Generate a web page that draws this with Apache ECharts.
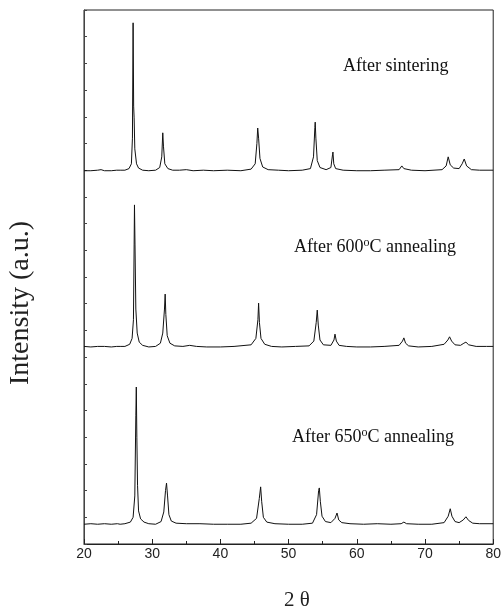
<!DOCTYPE html>
<html>
<head>
<meta charset="utf-8">
<script src="https://cdn.jsdelivr.net/npm/echarts@6/dist/echarts.min.js"></script>
<style>
  html, body { margin: 0; padding: 0; background: #fff; }
  #chart { width: 504px; height: 614px; }
</style>
</head>
<body>
<div id="chart"></div>
<script>
// x tick labels (2θ, degrees)
const xTicks = [20, 30, 40, 50, 60, 70, 80];

// traces, [2θ, intensity a.u.], already offset as plotted
const afterSintering = [
  [20, 699], [21, 699], [22, 700], [22.5, 701], [23, 699], [24, 699], [24.8, 700], [25.0, 703], [25.3, 700],
  [26, 700], [26.6, 703], [26.95, 712], [27.1, 760], [27.2, 976], [27.28, 820], [27.35, 798], [27.45, 740],
  [27.7, 712], [28.0, 704], [28.6, 700], [29.5, 699], [30.5, 700], [31.1, 705], [31.4, 725], [31.55, 770],
  [31.65, 745], [31.85, 712], [32.3, 703], [33, 700], [34, 700], [35, 701], [36, 699], [37.5, 700], [39, 699],
  [41, 700], [43, 699], [44.5, 702], [45.1, 712], [45.35, 750], [45.47, 779], [45.6, 760], [45.8, 722],
  [46.2, 706], [47, 701], [48.5, 700], [50, 699], [52, 700], [53.2, 703], [53.65, 725], [53.85, 780],
  [53.9, 790], [54.0, 760], [54.2, 718], [54.6, 705], [55.5, 701], [56.2, 705], [56.45, 730], [56.5, 734],
  [56.62, 712], [56.9, 703], [58, 700], [60, 699], [62, 699], [64, 700], [66.2, 701], [66.6, 708],
  [66.9, 703], [68, 700], [70, 699], [72.5, 701], [73.1, 708], [73.4, 725], [73.7, 710], [74.2, 704],
  [75, 703], [75.45, 712], [75.75, 721], [76.1, 708], [76.8, 701], [78, 700], [80, 700]
];

const after600 = [
  [20, 370], [21, 369], [22, 370], [23, 370], [24, 369], [24.8, 370], [25.0, 373], [25.3, 370], [26, 370],
  [26.7, 374], [27.05, 385], [27.25, 420], [27.35, 560], [27.4, 635], [27.48, 560], [27.6, 440], [27.8, 395],
  [28.1, 378], [28.6, 372], [29.5, 369], [30.5, 370], [31.2, 376], [31.55, 395], [31.8, 440], [31.9, 468],
  [32.0, 430], [32.2, 390], [32.6, 376], [33.3, 371], [34.5, 370], [35.5, 372], [36.5, 370], [38, 369],
  [40, 369], [42, 370], [44.5, 373], [45.2, 385], [45.5, 420], [45.6, 451], [45.72, 415], [45.95, 385],
  [46.5, 374], [47.5, 370], [49, 369], [51, 370], [53, 371], [53.7, 380], [54.05, 415], [54.2, 438],
  [54.35, 410], [54.6, 382], [55.1, 373], [56.2, 372], [56.65, 382], [56.8, 393], [57.0, 380], [57.4, 372],
  [58.5, 370], [60, 369], [62, 369], [64, 370], [66.2, 372], [66.7, 380], [66.9, 386], [67.15, 376],
  [67.6, 371], [69, 369], [71, 370], [72.8, 374], [73.35, 382], [73.6, 388], [73.9, 380], [74.4, 373],
  [75.2, 372], [75.7, 376], [76.0, 378], [76.4, 373], [77.5, 370], [79, 370], [80, 370]
];

const after650 = [
  [20, 37], [21, 38], [22, 37], [23, 38], [24, 37], [24.9, 38], [25.1, 40], [25.3, 37], [26, 38], [26.8, 41],
  [27.2, 50], [27.45, 90], [27.6, 240], [27.67, 294], [27.75, 200], [27.85, 110], [28.0, 62], [28.3, 47],
  [28.8, 41], [29.5, 38], [30.5, 37], [31.3, 42], [31.7, 60], [31.95, 100], [32.1, 114], [32.25, 90],
  [32.45, 55], [32.8, 43], [33.5, 39], [35, 38], [37, 38], [39, 37], [41, 37], [43, 37], [44.5, 39],
  [45.3, 48], [45.7, 85], [45.9, 107], [46.05, 80], [46.3, 50], [46.8, 41], [48, 38], [50, 37], [52, 37],
  [53.5, 39], [54.1, 55], [54.4, 100], [54.5, 105], [54.65, 80], [54.9, 52], [55.4, 42], [56.2, 40],
  [56.8, 48], [57.1, 58], [57.35, 45], [57.8, 40], [59, 38], [61, 37], [63, 38], [65, 37], [66.5, 38],
  [66.9, 41], [67.3, 38], [69, 37], [71, 37], [72.8, 40], [73.4, 52], [73.7, 66], [73.95, 52], [74.4, 42],
  [75, 40], [75.6, 45], [76.0, 51], [76.4, 44], [77, 39], [78, 38], [80, 38]
];

const traceNames = ['After sintering', 'After 600oC annealing', 'After 650oC annealing'];

const chart = echarts.init(document.getElementById('chart'));

const serif = '"Liberation Serif", "DejaVu Serif", serif';
const supStyle = { sup: { fontSize: 12, fontFamily: serif, verticalAlign: 'top', padding: [0, 0, 8, 0] } };

const lineSeries = (name, data) => ({
  name: name,
  type: 'line',
  data: data,
  symbol: 'none',
  silent: true,
  animation: false,
  lineStyle: { color: '#111', width: 1 },
});

const option = {
  animation: false,
  backgroundColor: '#fff',
  grid: {
    left: 84,
    right: 8,
    top: 10,
    bottom: 70,
    show: true,
    borderColor: '#222',
    borderWidth: 1,
  },
  xAxis: {
    type: 'value',
    min: xTicks[0],
    max: xTicks[xTicks.length - 1],
    interval: 10,
    axisLine: { lineStyle: { color: '#222', width: 1 } },
    axisTick: { inside: true, length: 5, lineStyle: { color: '#222' } },
    minorTick: { show: true, splitNumber: 2, length: 3, lineStyle: { color: '#222' } },
    axisLabel: {
      color: '#222',
      fontFamily: '"Liberation Sans", Arial, sans-serif',
      fontSize: 14,
      margin: 3,
    },
    splitLine: { show: false },
  },
  yAxis: {
    type: 'value',
    min: 0,
    max: 1000,
    interval: 50,
    axisLine: { show: true, lineStyle: { color: '#444', width: 1 } },
    axisTick: { inside: true, length: 3, lineStyle: { color: '#444' } },
    axisLabel: { show: false },
    splitLine: { show: false },
  },
  graphic: [
    {
      type: 'text',
      left: 343,
      top: 57,
      style: { text: traceNames[0], font: '18px ' + serif, fill: '#111' },
    },
    {
      type: 'text',
      left: 294,
      top: 237,
      style: { text: 'After 600{sup|o}C annealing', font: '18px ' + serif, fill: '#111', rich: supStyle },
    },
    {
      type: 'text',
      left: 292,
      top: 427,
      style: { text: 'After 650{sup|o}C annealing', font: '18px ' + serif, fill: '#111', rich: supStyle },
    },
    {
      type: 'text',
      x: 21,
      y: 303,
      rotation: Math.PI / 2,
      style: {
        text: 'Intensity (a.u.)',
        font: '28px ' + serif,
        fill: '#222',
        align: 'center',
        verticalAlign: 'middle',
      },
    },
    {
      type: 'text',
      x: 297,
      y: 600,
      style: {
        text: '2 θ',
        font: '21px ' + serif,
        fill: '#222',
        align: 'center',
        verticalAlign: 'middle',
      },
    },
  ],
  series: [
    lineSeries(traceNames[0], afterSintering),
    lineSeries(traceNames[1], after600),
    lineSeries(traceNames[2], after650),
  ],
};

chart.setOption(option);
</script>
</body>
</html>
